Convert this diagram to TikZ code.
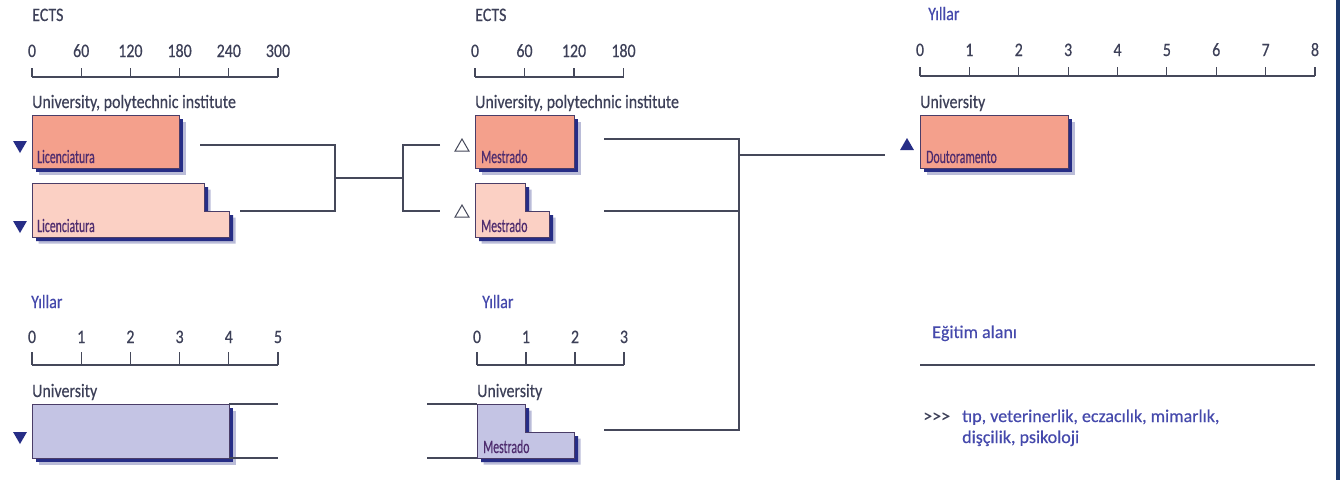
\documentclass[tikz,border=0pt]{standalone}
\usepackage{fontspec}
\setmainfont{Carlito}[FakeStretch=0.84, FakeBold=0.4]
\newfontfamily\boxfont{Carlito}[FakeStretch=0.62, FakeBold=0.4]
\newfontfamily\notefont{Carlito}[FakeBold=0.4]
\usetikzlibrary{positioning,shapes.geometric}
\definecolor{salmon}{HTML}{F4A08C}
\definecolor{salmonlight}{HTML}{FBD0C4}
\definecolor{lilac}{HTML}{C4C4E4}
\definecolor{navy}{HTML}{262D86}
\definecolor{inkgrey}{HTML}{3D4058}
\definecolor{inkblue}{HTML}{4549AC}
\definecolor{edge}{HTML}{4A3D68}
\definecolor{labelink}{HTML}{4E2C6E}
\definecolor{linegrey}{HTML}{45485A}
\definecolor{frame}{HTML}{1E3A6E}

\begin{document}
\begin{tikzpicture}[x=1pt, y=-1pt,
  head/.style={font=\fontsize{19}{22}\selectfont, text=inkgrey, inner sep=0pt, anchor=base west},
  yhead/.style={head, text=inkblue},
  ticknum/.style={font=\fontsize{19}{22}\selectfont, text=inkgrey, inner sep=0pt, anchor=base},
  note/.style={font=\notefont\fontsize{18}{21}\selectfont, text=inkblue, inner sep=0pt, anchor=base west},
  boxlabel/.style={font=\boxfont\fontsize{19}{21}\selectfont, text=labelink, inner sep=0pt, anchor=base west},
  axis/.style={draw=linegrey, line width=1.1pt},
  link/.style={draw=linegrey, line width=1.1pt},
  course/.style={draw=edge, line width=0.8pt,
    preaction={fill=navy!70, opacity=0.45, transform canvas={xshift=6.5pt, yshift=-6.5pt}},
    preaction={fill=navy, transform canvas={xshift=4pt, yshift=-4pt}}},
  pointer/.style={regular polygon, regular polygon sides=3, inner sep=0pt, minimum size=16pt},
  pdown/.style={pointer, fill=navy, shape border rotate=180},
  pup/.style={pointer, fill=navy},
  popen/.style={pointer, draw=linegrey, line width=1pt, fill=white}]
\useasboundingbox (0,0) rectangle (1340,480);
\fill[white] (0,0) rectangle (1340,480);
\fill[frame] (1336,0) rectangle (1340,480);

% --- ECTS scale, first cycle
\node[head] (ectsA) at (32,21) {ECTS};
\foreach \v [count=\k from 0] in {0,60,...,300} {
  \node[ticknum] (ectsA\k) at ({32+\k*49.2},57) {\v};
  \draw[axis] ({32+\k*49.2},68) -- ++(0,9);
}
\draw[axis] (32,77) -- (278,77);
\node[head] (instA) at (32,108) {University, polytechnic institute};

\path[course, fill=salmon] (32,115) rectangle (179,168);
\node[boxlabel] (licA) at (37,163) {Licenciatura};
\path[course, fill=salmonlight] (32,183) -- (204,183) -- (204,211) -- (229,211) -- (229,237) -- (32,237) -- cycle;
\node[boxlabel] (licB) at (37,232) {Licenciatura};
\node[pdown] (downA) at (20,145) {};
\node[pdown] (downB) at (20,225) {};

% --- ECTS scale, second cycle
\node[head] (ectsB) at (475,21) {ECTS};
\foreach \v [count=\k from 0] in {0,60,...,180} {
  \node[ticknum] (ectsB\k) at ({475+\k*49.5},57) {\v};
  \draw[axis] ({475+\k*49.5},68) -- ++(0,9);
}
\draw[axis] (475,77) -- (623.5,77);
\node[head] (instB) at (475,108) {University, polytechnic institute};

\path[course, fill=salmon] (475,115) rectangle (574,168);
\node[boxlabel] (mesA) at (481,163) {Mestrado};
\path[course, fill=salmonlight] (475,183) -- (525,183) -- (525,211) -- (549,211) -- (549,237) -- (475,237) -- cycle;
\node[boxlabel] (mesB) at (481,232) {Mestrado};
\node[popen] (openA) at (462,147) {};
\node[popen] (openB) at (462,213) {};

% --- years scale, third cycle
\node[yhead] (yilC) at (928,20) {Yıllar};
\foreach \v in {0,...,8} {
  \node[ticknum] (yilC\v) at ({920+\v*49.375},56) {\v};
  \draw[axis] ({920+\v*49.375},67) -- ++(0,9);
}
\draw[axis] (920,76) -- (1315,76);
\node[head] (uniC) at (920,108) {University};
\path[course, fill=salmon] (920,115) rectangle (1068,168);
\node[boxlabel] (dout) at (926,163) {Doutoramento};
\node[pup] (upC) at (907,146) {};

% --- years scale, integrated first cycle
\node[yhead] (yilD) at (31,308) {Yıllar};
\foreach \v in {0,...,5} {
  \node[ticknum] (yilD\v) at ({32+\v*49.2},343) {\v};
  \draw[axis] ({32+\v*49.2},352) -- ++(0,13);
}
\draw[axis] (32,365) -- (278,365);
\node[head] (uniD) at (32,397) {University};
\path[course, fill=lilac] (32,404) rectangle (229,458);
\node[pdown] (downD) at (20,436) {};

% --- years scale, integrated second cycle
\node[yhead] (yilE) at (482,308) {Yıllar};
\foreach \v in {0,...,3} {
  \node[ticknum] (yilE\v) at ({477+\v*49},343) {\v};
  \draw[axis] ({477+\v*49},352) -- ++(0,13);
}
\draw[axis] (477,365) -- (624,365);
\node[head] (uniE) at (477,397) {University};
\path[course, fill=lilac] (477,404) -- (525,404) -- (525,432) -- (574,432) -- (574,458) -- (477,458) -- cycle;
\node[boxlabel] (mesE) at (483,453) {Mestrado};

% --- field of study note
\node[note] (field) at (932,338) {Eğitim alanı};
\draw[axis] (920,365) -- (1315,365);
\node[note, text=inkgrey] (more) at (923,422) {>>>};
\node[note] (fieldA) at (962,422) {tıp, veterinerlik, eczacılık, mimarlık,};
\node[note] (fieldB) at (962,443) {dişçilik, psikoloji};

% --- connectors
\coordinate (licAend) at (200,145);
\coordinate (licBend) at (240,211);
\coordinate (joinL) at (335,178);
\coordinate (joinR) at (403,178);
\coordinate (mesAin) at (440,145);
\coordinate (mesBin) at (440,211);
\draw[link] (licAend) -| (joinL) |- (licBend);
\draw[link] (joinL) -- (joinR);
\draw[link] (mesAin) -| (joinR) |- (mesBin);

\coordinate (mesAend) at (604,139);
\coordinate (mesBend) at (604,211);
\coordinate (mesEend) at (604,430);
\coordinate (spine) at (739,155);
\coordinate (doutin) at (885,155);
\draw[link] (mesAend) -| (spine) |- (mesEend);
\draw[link] (mesBend) -- (mesBend -| spine);
\draw[link] (spine) -- (doutin);

\coordinate (uniDtop) at (229,404);
\coordinate (uniDbot) at (229,458);
\coordinate (uniEtop) at (477,404);
\coordinate (uniEbot) at (477,458);
\draw[link] (uniDtop) -- ++(49,0);
\draw[link] (uniDbot) -- ++(49,0);
\draw[link] (uniEtop) -- ++(-50,0);
\draw[link] (uniEbot) -- ++(-50,0);
\end{tikzpicture}
\end{document}
